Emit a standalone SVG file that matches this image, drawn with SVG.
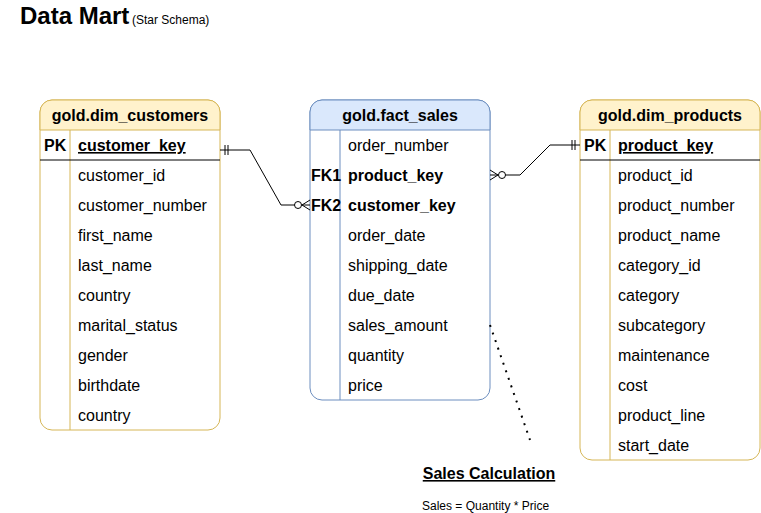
<svg xmlns="http://www.w3.org/2000/svg" width="761" height="513" viewBox="0 0 761 513">
<style>
text{font-family:"Liberation Sans",Arial,sans-serif;fill:#000}
.t{font-size:16px}
.b{font-weight:bold}
.h{font-size:16px;font-weight:bold;text-anchor:middle}
.u{text-decoration:underline}
.ln{fill:none;stroke:#000;stroke-width:1}
.yb{fill:#fff;stroke:#d6b656;stroke-width:1}
.yh{fill:#fff2cc;stroke:#d6b656;stroke-width:1}
.bb{fill:#fff;stroke:#6c8ebf;stroke-width:1}
.bh{fill:#dae8fc;stroke:#6c8ebf;stroke-width:1}
.ys{stroke:#d6b656;stroke-width:1}
.bs{stroke:#6c8ebf;stroke-width:1}
</style>
<rect width="761" height="513" fill="#fff"/>
<text x="20" y="24" font-size="24" font-weight="bold">Data Mart</text>
<text x="132" y="24" font-size="12">(Star Schema)</text>

<g id="dim_customers">
<rect class="yb" x="40" y="100" width="180" height="330" rx="12"/>
<path class="yh" d="M40,130 V112 A12,12 0 0 1 52,100 H208 A12,12 0 0 1 220,112 V130 Z"/>
<line class="ys" x1="70" y1="130" x2="70" y2="430"/>
<line x1="40" y1="160" x2="220" y2="160" stroke="#000"/>
<text class="h" x="130" y="121">gold.dim_customers</text>
<text class="t b" x="44" y="151">PK</text>
<text class="t b u" x="78" y="151">customer_key</text>
<text class="t" x="78" y="181">customer_id</text>
<text class="t" x="78" y="211">customer_number</text>
<text class="t" x="78" y="241">first_name</text>
<text class="t" x="78" y="271">last_name</text>
<text class="t" x="78" y="301">country</text>
<text class="t" x="78" y="331">marital_status</text>
<text class="t" x="78" y="361">gender</text>
<text class="t" x="78" y="391">birthdate</text>
<text class="t" x="78" y="421">country</text>
</g>

<g id="fact_sales">
<rect class="bb" x="310" y="100" width="180" height="300" rx="12"/>
<path class="bh" d="M310,130 V112 A12,12 0 0 1 322,100 H478 A12,12 0 0 1 490,112 V130 Z"/>
<line class="bs" x1="340" y1="130" x2="340" y2="400"/>
<text class="h" x="400" y="121">gold.fact_sales</text>
<text class="t" x="348" y="151">order_number</text>
<text class="t b" x="311" y="181">FK1</text>
<text class="t b" x="348" y="181">product_key</text>
<text class="t b" x="311" y="211">FK2</text>
<text class="t b" x="348" y="211">customer_key</text>
<text class="t" x="348" y="241">order_date</text>
<text class="t" x="348" y="271">shipping_date</text>
<text class="t" x="348" y="301">due_date</text>
<text class="t" x="348" y="331">sales_amount</text>
<text class="t" x="348" y="361">quantity</text>
<text class="t" x="348" y="391">price</text>
</g>

<g id="dim_products">
<rect class="yb" x="580" y="100" width="180" height="360" rx="12"/>
<path class="yh" d="M580,130 V112 A12,12 0 0 1 592,100 H748 A12,12 0 0 1 760,112 V130 Z"/>
<line class="ys" x1="610" y1="130" x2="610" y2="460"/>
<line x1="580" y1="160" x2="760" y2="160" stroke="#000"/>
<text class="h" x="670" y="121">gold.dim_products</text>
<text class="t b" x="584" y="151">PK</text>
<text class="t b u" x="618" y="151">product_key</text>
<text class="t" x="618" y="181">product_id</text>
<text class="t" x="618" y="211">product_number</text>
<text class="t" x="618" y="241">product_name</text>
<text class="t" x="618" y="271">category_id</text>
<text class="t" x="618" y="301">category</text>
<text class="t" x="618" y="331">subcategory</text>
<text class="t" x="618" y="361">maintenance</text>
<text class="t" x="618" y="391">cost</text>
<text class="t" x="618" y="421">product_line</text>
<text class="t" x="618" y="451">start_date</text>
</g>

<g id="connectors">
<path class="ln" d="M220,150 H250 L281,205 H310"/>
<line class="ln" x1="225" y1="145" x2="225" y2="155"/>
<line class="ln" x1="228" y1="145" x2="228" y2="155"/>
<circle cx="298" cy="205" r="3.5" fill="#fff" stroke="#000"/>
<path class="ln" d="M310,200 L302,205 L310,210"/>

<path class="ln" d="M490,175 H520 L550,145 H580"/>
<line class="ln" x1="572" y1="140" x2="572" y2="150"/>
<line class="ln" x1="575" y1="140" x2="575" y2="150"/>
<circle cx="502" cy="175" r="3.5" fill="#fff" stroke="#000"/>
<path class="ln" d="M490,170 L498,175 L490,180"/>

<line x1="490" y1="325" x2="530" y2="440" stroke="#000" stroke-width="2" stroke-dasharray="2 6"/>
</g>

<text x="489" y="479" font-size="16" font-weight="bold" text-anchor="middle" text-decoration="underline">Sales Calculation</text>
<text x="422" y="510" font-size="12">Sales = Quantity * Price</text>
</svg>
